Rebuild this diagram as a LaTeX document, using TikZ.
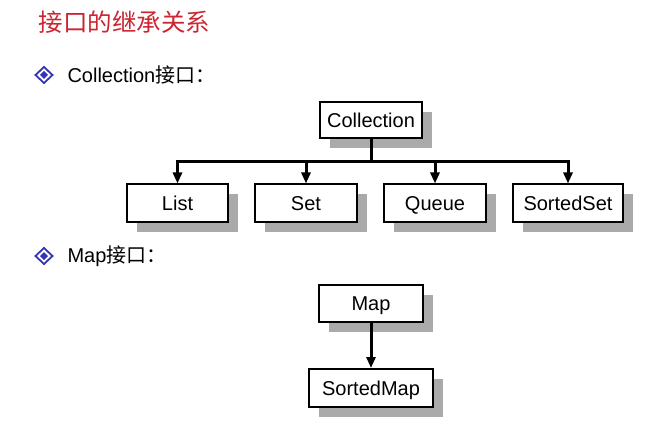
\documentclass[tikz,border=0pt]{standalone}
\usepackage{fontspec}
\setmainfont{Liberation Sans}
\newfontfamily\cjk{Noto Sans CJK SC}
\usetikzlibrary{arrows.meta,shadows}
\definecolor{titlered}{RGB}{204,36,48}
\definecolor{bulletblue}{RGB}{52,52,180}
\definecolor{shadowgray}{RGB}{170,170,170}
\tikzset{
	iface/.style={draw, line width=2pt, fill=white, inner sep=0pt,
		font=\fontsize{20}{23}\selectfont, text height=14.4pt, text depth=0pt,
		drop shadow={shadow xshift=10pt, shadow yshift=-10pt, fill=shadowgray, opacity=1}},
	link/.style={line width=3pt, -{Triangle[width=9pt,length=11pt]}},
	bullet/.style={bulletblue}
}

\begin{document}
\begin{tikzpicture}[x=1pt,y=-1pt]
	\useasboundingbox (0,0) rectangle (650,422);
	\node [anchor=west, text=titlered, font=\cjk\fontsize{24.5}{28}\selectfont] (title) at (35,22) {接口的继承关系};
	% Collection
	\draw [bullet, line width=1.8pt] (44,67) -- (52.5,75) -- (44,83) -- (35.5,75) -- cycle;
	\fill [bullet] (44,71) -- (48,75) -- (44,79) -- (40,75) -- cycle;
	\node [anchor=west, font=\fontsize{20}{24}\selectfont] (coltext) at (64,75) {Collection{\cjk 接口：}};
	\node [iface, minimum width=102pt, minimum height=36pt] (Collection) at (371,120) {Collection};
	\node [iface, minimum width=101pt, minimum height=37pt] (List) at (177.5,203) {List};
	\node [iface, minimum width=102pt, minimum height=37pt] (Set) at (306,203) {Set};
	\node [iface, minimum width=102pt, minimum height=37pt] (Queue) at (435,203) {Queue};
	\node [iface, minimum width=110pt, minimum height=37pt] (SortedSet) at (568,203) {SortedSet};
	\coordinate (bar) at (371,162);
	\foreach \n in {List,Set,Queue,SortedSet}
		\draw [link] (Collection.south) -- (bar) -| (\n.north);
	% Map
	\draw [bullet, line width=1.8pt] (44,248) -- (52.5,256) -- (44,264) -- (35.5,256) -- cycle;
	\fill [bullet] (44,252) -- (48,256) -- (44,260) -- (40,256) -- cycle;
	\node [anchor=west, font=\fontsize{20}{24}\selectfont] (maptext) at (64,256) {Map{\cjk 接口：}};
	\node [iface, minimum width=104pt, minimum height=37pt] (Map) at (371,303.5) {Map};
	\node [iface, minimum width=124pt, minimum height=38pt] (SortedMap) at (371,388) {SortedMap};
	\draw [link] (Map) -- (SortedMap);
\end{tikzpicture}
\end{document}
